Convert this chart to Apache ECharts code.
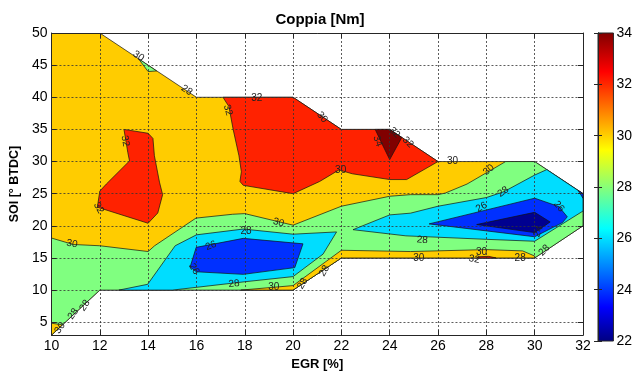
<!DOCTYPE html>
<html>
<head>
<meta charset="utf-8">
<script src="https://cdn.jsdelivr.net/npm/echarts@6/dist/echarts.min.js"></script>
<style>html,body{margin:0;padding:0;background:#fff;}#c{width:635px;height:376px;}</style>
</head>
<body>
<div id="c"></div>
<script>
// ---- data (EGR [%], SOI [deg BTDC]) : filled contour regions ----
const domainBoundary = [[10,50],[12,50],[16,40],[20,40],[22,35],[24,35],[26,30],[30,30],[32,25],[32,20],[30,15],[22,15],[20,10],[12,10],[10,3]];
const below30 = [[10,18.1],[10.9,17.1],[12,16.9],[14,16.0],[14.27,16.9],[15.98,21.2],[17.5,21.8],[18,21.9],[20,20.1],[22,23.05],[24,24.6],[24.86,24.85],[26,24.85],[26.3,25.1],[27.2,26.5],[28.8,30],[30,30],[32,25],[32,20],[30,15],[22,15],[20,10],[12,10],[10,3]];
const greenTop = [[13.6,46],[14.35,44.1],[14,44]];
const cyanLeft = [[12.79,10],[13.98,10.9],[15.12,16.9],[16,18.6],[17.94,19.5],[20,18.7],[21.8,19.05],[21.24,15.6],[20,12.1],[18,11.3],[15,10]];
const cyanRight = [[22.48,19.4],[24,21.7],[24.86,21.97],[26,23.05],[28,24.4],[28.72,25.3],[30,27.9],[30.5,28.75],[32,25],[32,22.3],[30,17.6],[28,17.9],[24.67,18.44]];
const blueLeft = [[15.74,13.6],[15.99,16.65],[17.94,18.05],[20.41,17.2],[20.07,13.5],[17.94,12.45],[16,12.85]];
const blueRight = [[25.63,20.3],[30,24.3],[31.0,23.0],[31.35,21.4],[31.15,20.5],[30,18.3]];
const blueCorner = [[31.8,25.5],[32,25],[32,24.3]];
const navyRight = [[27.6,20.2],[30,22.1],[30.64,20.6],[30,18.95]];
const yellowBottom = [[17.84,10],[20,10.7],[22,16.2],[24.86,16.0],[28,16.3],[29.5,16.1],[30,15.3],[30,15],[22,15],[20,10]];
const yellowCorner = [[10,3],[10.45,4.6],[10,4.85]];
const redLeft = [[13.0,35],[14.0,34.4],[14.2,33.6],[14.26,30.9],[14.47,26.8],[14.6,24.85],[14.4,22.0],[14.0,20.4],[11.9,22.9],[12.0,25.4],[12.27,26.5],[13.23,30.1],[13.16,31.4]];
const redMid = [[17.1,40],[20,40],[22,35],[24,35],[26,30],[24.7,27.2],[24,27.2],[22.45,28.1],[21.9,28.7],[21.1,26.9],[20,25],[17.94,26.3],[17.8,26.9],[17.86,28.4],[17.76,30.9],[17.52,35],[17.34,38.6],[17.25,39.1]];
const redSliver = [[27.6,15],[28.4,15],[28.1,15.25],[27.7,15.2]];
const darkRed = [[23.4,35],[24,35],[24.5,33.75],[24.0,30.3],[23.7,32.6]];

// region -> contour level (lower bound of the filled band), drawn in this order
const regionPolys  = [domainBoundary, below30, greenTop, cyanLeft, cyanRight, blueLeft, blueRight, blueCorner, navyRight, yellowBottom, yellowCorner, redLeft, redMid, redSliver, darkRed];
const regionLevels = [30, 28, 28, 26, 26, 24, 24, 24, 22, 30, 30, 32, 32, 32, 34];

// contour labels: [EGR, SOI, text, angle(deg)]
const contourLabels = [
  [13.6,46.4,'30',-34],[15.6,41.1,'28',-34],[17.3,38.0,'32',-75],[18.5,39.9,'32',0],[21.2,36.9,'30',-50],
  [13.05,33.2,'32',-80],[11.95,22.8,'32',-60],[10.85,17.2,'30',-10],[23.5,33.2,'34',-70],[24.2,34.5,'32',-45],
  [24.75,33.0,'32',-45],[21.97,28.7,'30',0],[26.6,30.0,'30',0],[28.1,28.7,'30',40],[28.7,25.3,'28',35],
  [27.8,22.9,'26',30],[31.0,23.0,'26',-50],[30.15,19.1,'24',70],[25.35,17.8,'28',-5],[25.2,15.0,'30',0],
  [27.8,15.9,'30',0],[27.5,14.8,'32',-10],[29.4,15.0,'28',0],[30.4,16.2,'28',45],[21.3,13.0,'28',60],
  [20.4,11.0,'28',60],[19.2,10.4,'30',0],[17.56,11.0,'28',5],[16.6,16.9,'26',20],[15.9,13.3,'26',-60],
  [18.05,19.2,'28',0],[19.4,20.5,'30',-15],[11.38,7.6,'28',55],[10.9,6.3,'28',55],[10.35,4.1,'30',55]
];

const colorbarMin = 22, colorbarMax = 34;
// ---- styles ----
const levelColors = {22:'#000090', 24:'#0030FF', 26:'#00DDFF', 28:'#80FF80', 30:'#FFCC00', 32:'#FF2200', 34:'#800000'};
const jetStops = [[0,'#000080'],[0.111,'#0000FF'],[0.365,'#00FFFF'],[0.619,'#FFFF00'],[0.873,'#FF0000'],[1,'#800000']];
const FONT = 'Liberation Sans, Arial, Helvetica, sans-serif';

const chart = echarts.init(document.getElementById('c'), null, {renderer:'canvas'});
const gridL = 49, gridR = 52, gridT = 33, gridB = 35;
const axisCommon = {
  axisLine:{show:true, lineStyle:{color:'#262626', width:1}},
  axisTick:{show:true, inside:true, length:5, lineStyle:{color:'#262626'}},
  z: 5
};
const gridLineStyle = {color:'#333', type:[2,2], width:0.8};
const option = {
  animation:false,
  backgroundColor:'#fff',
  title:{text:'Coppia [Nm]', left:315, top:7, textAlign:'center',
    textStyle:{fontFamily:FONT, fontSize:15, fontWeight:'bold', color:'#000'}},
  grid:[
    {left:gridL, right:gridR, top:gridT, bottom:gridB},
    {left:598, width:19, top:gridT, bottom:gridB}
  ],
  xAxis:[
    Object.assign({type:'value', gridIndex:0, min:10, max:32, interval:2, position:'bottom',
      name:'EGR [%]', nameLocation:'middle', nameGap:19,
      nameTextStyle:{fontFamily:FONT, fontSize:13, fontWeight:'bold', color:'#000'},
      axisLabel:{fontFamily:FONT, fontSize:14, color:'#000', margin:4},
      splitLine:{show:true, lineStyle:gridLineStyle}}, axisCommon),
    Object.assign({type:'value', gridIndex:0, min:10, max:32, interval:2, position:'top',
      axisLabel:{show:false}, splitLine:{show:false}}, axisCommon),
    {type:'value', gridIndex:1, min:0, max:1, show:false}
  ],
  yAxis:[
    Object.assign({type:'value', gridIndex:0, min:3, max:50, minInterval:5, maxInterval:5, position:'left',
      name:'SOI [° BTDC]', nameLocation:'middle', nameGap:21,
      nameTextStyle:{fontFamily:FONT, fontSize:12.5, fontWeight:'bold', color:'#000'},
      axisLabel:{fontFamily:FONT, fontSize:14, color:'#000', margin:4, showMinLabel:false},
      splitLine:{show:true, lineStyle:gridLineStyle}}, axisCommon),
    Object.assign({type:'value', gridIndex:0, min:3, max:50, minInterval:5, maxInterval:5, position:'right',
      axisLabel:{show:false}, splitLine:{show:false}}, axisCommon),
    Object.assign({type:'value', gridIndex:1, min:colorbarMin, max:colorbarMax, interval:2, position:'right',
      axisLabel:{fontFamily:FONT, fontSize:14, color:'#000', margin:3},
      splitLine:{show:false}}, axisCommon, {axisTick:{show:true, inside:true, length:4, lineStyle:{color:'#262626'}}, z:6}),
    Object.assign({type:'value', gridIndex:1, min:colorbarMin, max:colorbarMax, interval:2, position:'left',
      axisLabel:{show:false}, splitLine:{show:false}}, axisCommon, {axisTick:{show:true, inside:true, length:4, lineStyle:{color:'#262626'}}, z:6})
  ],
  series:[
    {
      type:'custom', xAxisIndex:0, yAxisIndex:0, z:2, clip:true,
      encode:{x:0, y:1},
      data: regionPolys.map(p => [p[0][0], p[0][1]]),
      renderItem:function(params, api){
        const pts = regionPolys[params.dataIndex].map(p => api.coord(p));
        return {type:'polygon', shape:{points:pts},
          style:{fill:levelColors[regionLevels[params.dataIndex]], stroke:'#111', lineWidth:0.7}};
      }
    },
    {
      type:'custom', xAxisIndex:0, yAxisIndex:0, z:4,
      encode:{x:0, y:1},
      data: contourLabels.map(l => [l[0], l[1]]),
      renderItem:function(params, api){
        const l = contourLabels[params.dataIndex];
        const c = api.coord([l[0], l[1]]);
        return {type:'text', x:c[0], y:c[1], rotation:l[3]*Math.PI/180,
          style:{text:l[2], fill:'#222', fontSize:10, fontFamily:FONT, align:'center', verticalAlign:'middle'}};
      }
    },
    {
      type:'custom', xAxisIndex:2, yAxisIndex:2, z:2,
      encode:{x:0, y:1},
      data:[[0, colorbarMin]],
      renderItem:function(params, api){
        const p0 = api.coord([0, colorbarMax]);
        const p1 = api.coord([1, colorbarMin]);
        return {type:'rect', shape:{x:p0[0], y:p0[1], width:p1[0]-p0[0], height:p1[1]-p0[1]},
          style:{fill:new echarts.graphic.LinearGradient(0,1,0,0, jetStops.map(s=>({offset:s[0], color:s[1]}))),
            stroke:'#262626', lineWidth:1}};
      }
    }
  ]
};
chart.setOption(option);
</script>
</body>
</html>
